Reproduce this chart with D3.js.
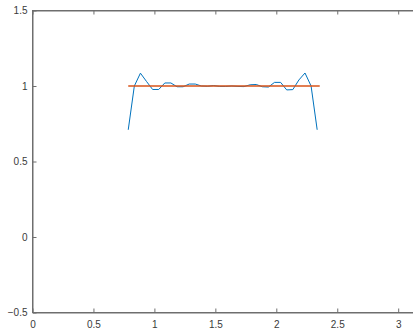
<!DOCTYPE html>
<html>
<head>
<meta charset="utf-8">
<script src="https://cdn.jsdelivr.net/npm/d3@7"></script>
<style>
  body { margin: 0; background: #fff; }
  svg { display: block; font-family: "Liberation Sans", Arial, sans-serif; }
</style>
</head>
<body>
<svg id="chart"></svg>
<script>
// sampled approximation (x = pi/4 : 0.05 : 3pi/4)
const xs = [0.7854, 0.8354, 0.8854, 0.9354, 0.9854, 1.0354, 1.0854, 1.1354,
            1.1854, 1.2354, 1.2854, 1.3354, 1.3854, 1.4354, 1.4854, 1.5354,
            1.5854, 1.6354, 1.6854, 1.7354, 1.7854, 1.8354, 1.8854, 1.9354,
            1.9854, 2.0354, 2.0854, 2.1354, 2.1854, 2.2354, 2.2854, 2.3354];
const ys = [0.71, 1.00, 1.085, 1.03, 0.977, 0.977, 1.02, 1.02,
            0.995, 0.995, 1.013, 1.013, 1.0, 0.998, 1.003, 0.997,
            0.997, 1.0, 0.997, 0.996, 1.008, 1.01, 0.995, 0.993,
            1.024, 1.024, 0.974, 0.976, 1.04, 1.086, 1.0, 0.71];

// reference level
const refX = [0.7854, 2.3562];
const refY = [1, 1];

const xTicks = [0, 0.5, 1, 1.5, 2, 2.5, 3];
const yTicks = [-0.5, 0, 0.5, 1, 1.5];

const width = 413, height = 335;
const margin = {top: 10.5, left: 32.5, bottom: 22.5};

const svg = d3.select('#chart')
    .attr('width', width)
    .attr('height', height);

const x = d3.scaleLinear()
    .domain([0, Math.PI])
    .range([margin.left, margin.left + Math.PI * 121.9]);

const y = d3.scaleLinear()
    .domain([-0.5, 1.5])
    .range([height - margin.bottom, margin.top]);

const axisColor = '#6e6e6e';

// box lines
svg.append('rect')
    .attr('x', x(0)).attr('y', y(1.5))
    .attr('width', x(Math.PI) - x(0))
    .attr('height', y(-0.5) - y(1.5))
    .attr('fill', '#fff')
    .attr('stroke', axisColor)
    .attr('stroke-width', 1);

const xaxis = svg.append('g')
    .attr('transform', `translate(0, ${y(-0.5)})`)
    .call(d3.axisBottom(x).tickValues(xTicks).tickFormat(d3.format('')).tickSizeInner(-4).tickSizeOuter(0).tickPadding(8));

const xaxisTop = svg.append('g')
    .attr('transform', `translate(0, ${y(1.5)})`)
    .call(d3.axisTop(x).tickValues(xTicks).tickFormat('').tickSizeInner(-4).tickSizeOuter(0));

const yaxis = svg.append('g')
    .attr('transform', `translate(${x(0)}, 0)`)
    .call(d3.axisLeft(y).tickValues(yTicks).tickFormat(d3.format('')).tickSizeInner(-4).tickSizeOuter(0).tickPadding(5));

[xaxis, xaxisTop, yaxis].forEach(g => {
    g.select('.domain').attr('stroke', axisColor);
    g.selectAll('.tick line').attr('stroke', axisColor);
    g.selectAll('.tick text')
        .attr('fill', '#3a3a3a')
        .style('font-size', '10px')
        .style('font-family', '"Liberation Sans", Arial, sans-serif');
});

const line = d3.line()
    .x(d => x(d[0]))
    .y(d => y(d[1]));

svg.append('path')
    .datum(xs.map((d, i) => [d, ys[i]]))
    .attr('d', line)
    .attr('fill', 'none')
    .attr('stroke', '#0072BD')
    .attr('stroke-width', 1);

svg.append('path')
    .datum(refX.map((d, i) => [d, refY[i]]))
    .attr('d', line)
    .attr('fill', 'none')
    .attr('stroke', '#D95319')
    .attr('stroke-width', 1.5);
</script>
</body>
</html>
